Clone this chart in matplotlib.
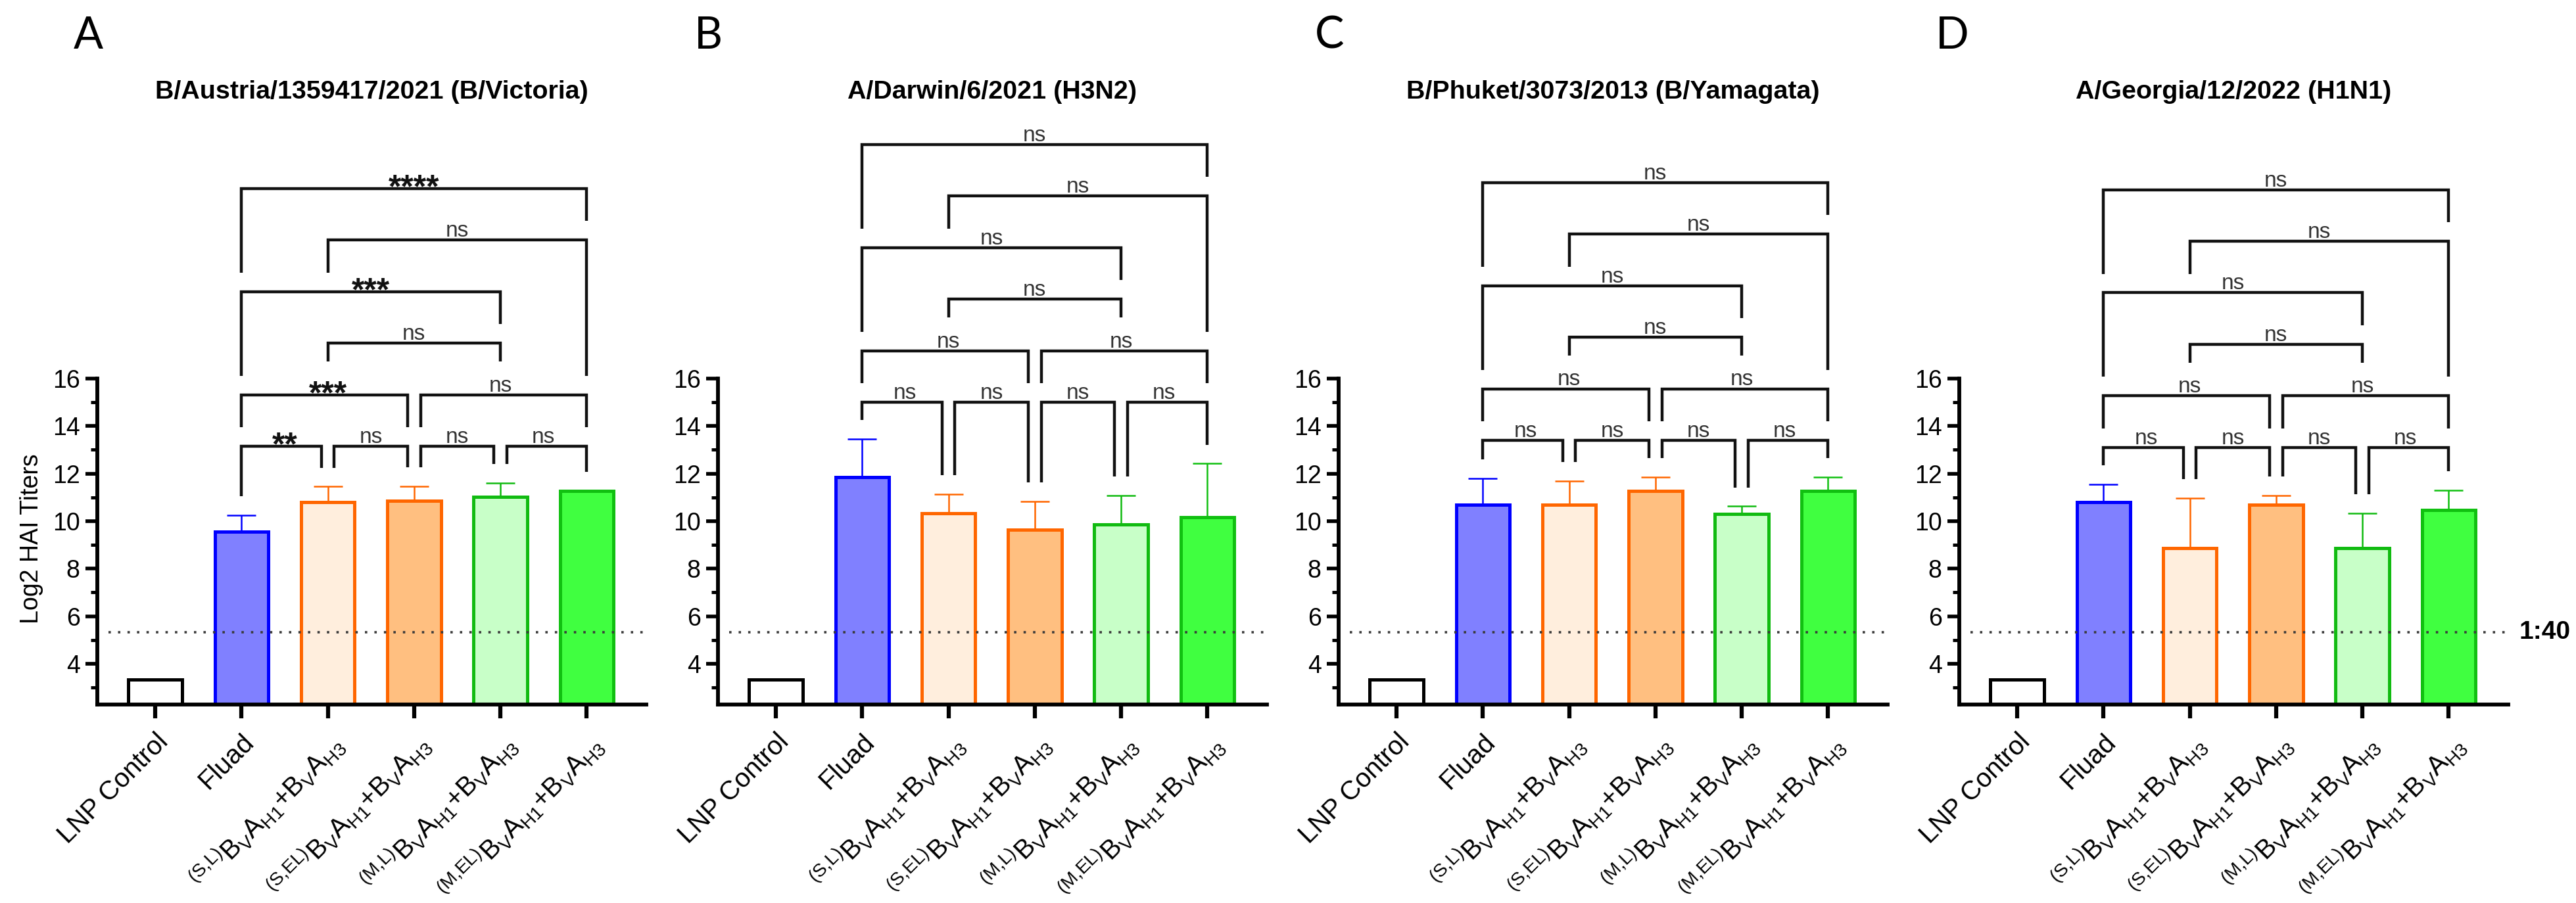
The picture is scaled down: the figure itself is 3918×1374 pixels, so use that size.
import numpy as np
import matplotlib.pyplot as plt

plt.rcParams["font.family"] = ["Liberation Sans", "DejaVu Sans"]
plt.rcParams["mathtext.fontset"] = "custom"
plt.rcParams["mathtext.rm"] = "Liberation Sans"
plt.rcParams["mathtext.it"] = "Liberation Sans:italic"
plt.rcParams["mathtext.bf"] = "Liberation Sans:bold"

# ---- data (log2 HAI titers, mean and upper SD) ----
groups = [
    "LNP Control",
    "Fluad",
    r"$^{\mathregular{(S{,}L)}}\mathregular{B_{V}A_{H1}{+}B_{V}A_{H3}}$",
    r"$^{\mathregular{(S{,}EL)}}\mathregular{B_{V}A_{H1}{+}B_{V}A_{H3}}$",
    r"$^{\mathregular{(M{,}L)}}\mathregular{B_{V}A_{H1}{+}B_{V}A_{H3}}$",
    r"$^{\mathregular{(M{,}EL)}}\mathregular{B_{V}A_{H1}{+}B_{V}A_{H3}}$",
]
letters = ["A", "B", "C", "D"]
titles = [
    "B/Austria/1359417/2021 (B/Victoria)",
    "A/Darwin/6/2021 (H3N2)",
    "B/Phuket/3073/2013 (B/Yamagata)",
    "A/Georgia/12/2022 (H1N1)",
]
means_a = [3.32, 9.55, 10.80, 10.85, 11.02, 11.27]
errs_a = [0.0, 0.70, 0.65, 0.62, 0.58, 0.0]
means_b = [3.32, 11.85, 10.33, 9.65, 9.85, 10.15]
errs_b = [0.0, 1.60, 0.80, 1.17, 1.22, 2.27]
means_c = [3.32, 10.68, 10.68, 11.27, 10.30, 11.27]
errs_c = [0.0, 1.12, 1.00, 0.58, 0.32, 0.58]
means_d = [3.32, 10.80, 8.85, 10.70, 8.85, 10.47]
errs_d = [0.0, 0.75, 2.11, 0.38, 1.48, 0.83]

# multiple comparisons (group index pairs) and the bracket row each sits on
pairs = [(1, 2), (2, 3), (3, 4), (4, 5), (1, 3), (3, 5), (2, 4), (1, 4), (2, 5), (1, 5)]
rows = [0, 0, 0, 0, 1, 1, 2, 3, 4, 5]
sig_a = ["**", "ns", "ns", "ns", "***", "ns", "ns", "***", "ns", "****"]
sig_b = ["ns"] * 10
sig_c = ["ns"] * 10
sig_d = ["ns"] * 10

threshold = np.log2(40)

fills = ["white", "#8080ff", "#ffeedd", "#ffbf80", "#c8ffc8", "#40ff40"]
edges = ["black", "#0000ff", "#ff6600", "#ff6600", "#11bb11", "#11c011"]

W, H = 3918, 1374
fig = plt.figure(figsize=(W / 100, H / 100), dpi=100)

y_floor = 2.28


def draw_brackets(ax, tops, labels):
    base = max(tops) + 1.55
    step = 2.17
    gap = 0.8
    text_h = 0.6
    inset = 0.075
    levels = [base + step * r for r in rows]

    def leg_bottom(k, x):
        obs = [tops[x]]
        for j, (c, d) in enumerate(pairs):
            if rows[j] < rows[k] and c <= x <= d:
                obs.append(levels[j] + (text_h if (c + d) / 2 == x else 0))
        return max(obs) + gap

    for k, (a, b) in enumerate(pairs):
        lvl = levels[k]
        same_row = [pairs[j] for j in range(len(pairs)) if rows[j] == rows[k] and j != k]
        xa = a + inset if any(p[1] == a for p in same_row) else a
        xb = b - inset if any(p[0] == b for p in same_row) else b
        ax.plot([xa, xa, xb, xb], [leg_bottom(k, a), lvl, lvl, leg_bottom(k, b)],
                color="#111111", lw=3.2, clip_on=False, solid_joinstyle="miter",
                solid_capstyle="butt", zorder=5)
        lab = labels[k]
        if lab == "ns":
            ax.text((a + b) / 2, lvl + 0.14, lab, ha="center", va="baseline",
                    fontsize=24, color="#333333", clip_on=False)
        else:
            ax.text((a + b) / 2, lvl - 0.38, lab, ha="center", va="baseline",
                    fontsize=36, fontweight="bold", color="#111111", clip_on=False)


panels = [
    (means_a, errs_a, sig_a),
    (means_b, errs_b, sig_b),
    (means_c, errs_c, sig_c),
    (means_d, errs_d, sig_d),
]

ax_w = 835 / W
ax_b = (H - 1072) / H
ax_h = (1072 - 576) / H
x = np.arange(len(groups))

for i, (means, errs, sig) in enumerate(panels):
    left = (148 + i * 944) / W
    ax = fig.add_axes([left, ax_b, ax_w, ax_h])

    ax.bar(x, np.array(means) - y_floor, bottom=y_floor, width=0.62,
           color=fills, edgecolor=edges, linewidth=3.6, zorder=2)
    for xi, m, e, c in zip(x, means, errs, edges):
        if xi == 0:
            continue
        ax.errorbar(xi, m, yerr=[[0], [e]], fmt="none", ecolor=c,
                    elinewidth=1.8, capsize=16, capthick=1.8, zorder=1.8)

    ax.axhline(threshold, xmin=0.02, xmax=1, color="#3a3a3a", lw=2.6,
               ls=(0, (1, 3.0)), zorder=3)

    ax.set_xlim(-0.67, 5.69)
    ax.set_ylim(y_floor, 16)
    ax.set_yticks(range(4, 17, 2))
    ax.set_yticks(range(3, 16, 2), minor=True)
    ax.set_xticks(x)
    ax.set_xticklabels(groups, rotation=45, ha="right", rotation_mode="anchor")

    for s in ["top", "right"]:
        ax.spines[s].set_visible(False)
    for s in ["left", "bottom"]:
        ax.spines[s].set_linewidth(4.2)
        ax.spines[s].set_zorder(4)
    ax.tick_params(axis="y", which="major", length=13, width=4, labelsize=27, pad=6)
    ax.tick_params(axis="y", which="minor", length=7, width=3.5)
    ax.tick_params(axis="x", length=15, width=4.5, labelsize=29, pad=12)

    tops = [m + e for m, e in zip(means, errs)]
    draw_brackets(ax, tops, sig)

    cx = left + ax_w / 2
    fig.text(cx, 1 - 150 / H, titles[i], ha="center", va="baseline",
             fontsize=28.4, fontweight="bold")
    fig.text(left - 36 / W, 1 - 74 / H, letters[i], ha="left", va="baseline",
             fontsize=48, family="Lato")

    if i == 3:
        ax.annotate("1:40", xy=(1, threshold), xycoords=("axes fraction", "data"),
                    xytext=(12, 0), textcoords="offset points", ha="left",
                    va="center", fontsize=28, fontweight="bold")

fig.text(48 / W, 1 - 820 / H, "Log2 HAI Titers", rotation=90, ha="center",
         va="center", fontsize=27)

fig.savefig("out.png", dpi=100)
